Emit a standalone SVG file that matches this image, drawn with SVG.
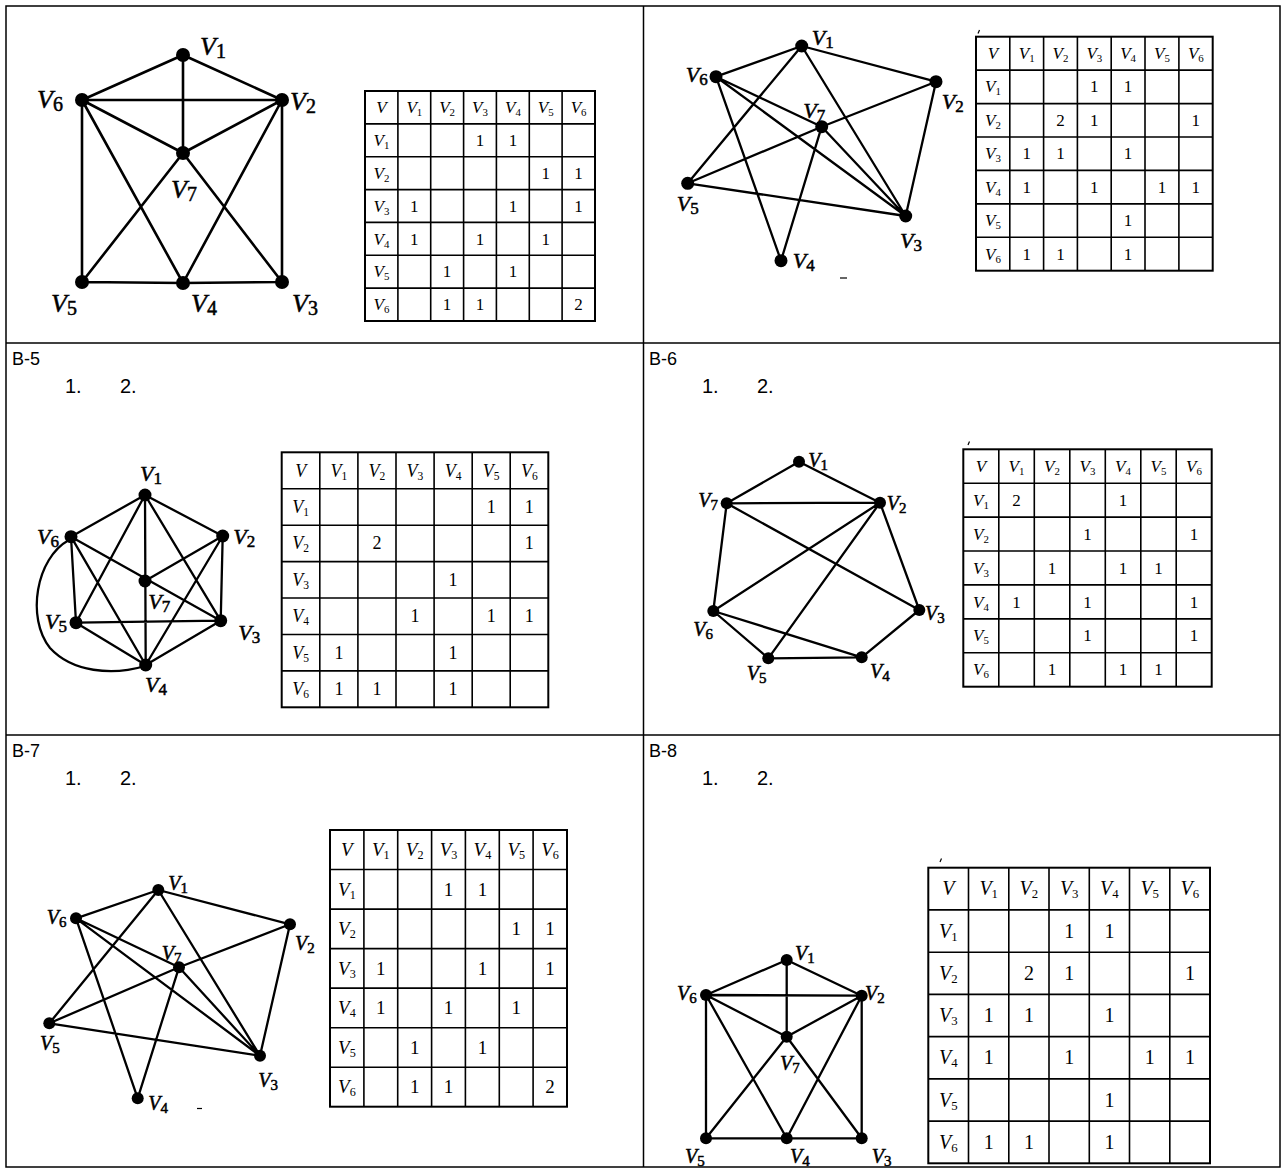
<svg xmlns="http://www.w3.org/2000/svg" width="1286" height="1173" viewBox="0 0 1286 1173">
<style>
.frame{fill:none;stroke:#000;stroke-width:1.5}
.edge{stroke:#000;stroke-width:2.6;fill:none;stroke-linecap:round}
.e2{stroke-width:2.3}
.nd{fill:#000}
.gl{font-family:"Liberation Serif",serif;font-style:italic;fill:#000;stroke:#000;stroke-width:0.5}
.gl tspan{font-style:normal}
.g1{font-size:26px}.g1 tspan{font-size:20px}
.g2{font-size:22px}.g2 tspan{font-size:17px}
.g3{font-size:22px}.g3 tspan{font-size:17px}
.g4{font-size:20px}.g4 tspan{font-size:15px}
.tb{fill:none;stroke:#000;stroke-width:2}
.tl{fill:none;stroke:#000;stroke-width:1.6}
.tt{font-family:"Liberation Serif",serif;text-anchor:middle;fill:#000}
.tv{font-style:italic}
.tv tspan{font-style:normal;font-size:64%}
.t17{font-size:17px}.t18{font-size:18px}.t19{font-size:19px}.t20{font-size:20px}
.lbl{font-family:"Liberation Sans","Open Sans",sans-serif;font-size:18px;fill:#000}
.num{font-size:20px}
.mk{stroke:#000;stroke-width:1.2}
</style>
<rect width="1286" height="1173" fill="#fff"/>

<g id="frame">
<rect class="frame" x="6" y="6" width="1274" height="1161"/>
<line class="frame" x1="643.5" y1="6" x2="643.5" y2="1167"/>
<line class="frame" x1="6" y1="343" x2="1280" y2="343"/>
<line class="frame" x1="6" y1="735" x2="1280" y2="735"/>
</g>

<g id="cell-labels">
<text class="lbl" x="12" y="365">B-5</text>
<text class="lbl num" x="65" y="393">1.</text>
<text class="lbl num" x="120" y="393">2.</text>
<text class="lbl" x="649" y="365">B-6</text>
<text class="lbl num" x="702" y="393">1.</text>
<text class="lbl num" x="757" y="393">2.</text>
<text class="lbl" x="12" y="757">B-7</text>
<text class="lbl num" x="65" y="785">1.</text>
<text class="lbl num" x="120" y="785">2.</text>
<text class="lbl" x="649" y="757">B-8</text>
<text class="lbl num" x="702" y="785">1.</text>
<text class="lbl num" x="757" y="785">2.</text>
</g>

<!-- ===== Panel 1 graph ===== -->
<g id="p1-connectors">
<path class="edge" d="M183 55L82 100M183 55L282 100M183 55L183 153M82 100L282 100M82 100L183 153M282 100L183 153M82 100L82 282M82 100L183 283M282 100L282 282M282 100L183 283M183 153L82 282M183 153L282 282M82 282L183 283L282 282"/>
</g>
<g id="p1-v1"><circle class="nd" cx="183" cy="55" r="7"/><text class="gl g1" x="200" y="55">V<tspan dy="3">1</tspan></text></g>
<g id="p1-v2"><circle class="nd" cx="282" cy="100" r="7"/><text class="gl g1" x="290" y="110">V<tspan dy="3">2</tspan></text></g>
<g id="p1-v3"><circle class="nd" cx="282" cy="282" r="7"/><text class="gl g1" x="292" y="312">V<tspan dy="3">3</tspan></text></g>
<g id="p1-v4"><circle class="nd" cx="183" cy="283" r="7"/><text class="gl g1" x="191" y="312">V<tspan dy="3">4</tspan></text></g>
<g id="p1-v5"><circle class="nd" cx="82" cy="282" r="7"/><text class="gl g1" x="51" y="312">V<tspan dy="3">5</tspan></text></g>
<g id="p1-v6"><circle class="nd" cx="82" cy="100" r="7"/><text class="gl g1" x="37" y="108">V<tspan dy="3">6</tspan></text></g>
<g id="p1-v7"><circle class="nd" cx="183" cy="153" r="7"/><text class="gl g1" x="171" y="198">V<tspan dy="3">7</tspan></text></g>

<!-- Panel 1 table -->
<g id="p1-table">
<rect class="tb" x="365" y="91" width="230" height="230"/>
<path class="tl" d="M397.9 91V321M430.7 91V321M463.6 91V321M496.4 91V321M529.3 91V321M562.1 91V321M365 123.9H595M365 156.7H595M365 189.6H595M365 222.4H595M365 255.3H595M365 288.1H595"/>
<g class="tt t17">
<text class="tv" x="381.4" y="113">V</text>
<text class="tv" x="414.3" y="113">V<tspan dy="3">1</tspan></text>
<text class="tv" x="447.1" y="113">V<tspan dy="3">2</tspan></text>
<text class="tv" x="480" y="113">V<tspan dy="3">3</tspan></text>
<text class="tv" x="512.9" y="113">V<tspan dy="3">4</tspan></text>
<text class="tv" x="545.7" y="113">V<tspan dy="3">5</tspan></text>
<text class="tv" x="578.6" y="113">V<tspan dy="3">6</tspan></text>
<text class="tv" x="381.4" y="146">V<tspan dy="3">1</tspan></text>
<text class="tv" x="381.4" y="178.7">V<tspan dy="3">2</tspan></text>
<text class="tv" x="381.4" y="211.6">V<tspan dy="3">3</tspan></text>
<text class="tv" x="381.4" y="244.5">V<tspan dy="3">4</tspan></text>
<text class="tv" x="381.4" y="277.3">V<tspan dy="3">5</tspan></text>
<text class="tv" x="381.4" y="310.2">V<tspan dy="3">6</tspan></text>
<text x="480" y="146">1</text><text x="512.9" y="146">1</text>
<text x="545.7" y="178.7">1</text><text x="578.6" y="178.7">1</text>
<text x="414.3" y="211.6">1</text><text x="512.9" y="211.6">1</text><text x="578.6" y="211.6">1</text>
<text x="414.3" y="244.5">1</text><text x="480" y="244.5">1</text><text x="545.7" y="244.5">1</text>
<text x="447.1" y="277.3">1</text><text x="512.9" y="277.3">1</text>
<text x="447.1" y="310.2">1</text><text x="480" y="310.2">1</text><text x="578.6" y="310.2">2</text>
</g>
</g>

<!-- ===== Panel 2 graph ===== -->
<g id="p2-connectors">
<path class="edge e2" d="M801.7 46L716 76.7M801.7 46L936 81.7M801.7 46L687.7 183.3M801.7 46L905.7 216M716 76.7L781 260.7M716 76.7L821.7 126.7M716 76.7L905.7 216M821.7 126.7L905.7 216M821.7 126.7L687.7 183.3M821.7 126.7L936 81.7M821.7 126.7L781 260.7M687.7 183.3L905.7 216M936 81.7L905.7 216"/>
<path class="mk" d="M840 278H847"/>
</g>
<g id="p2-v1"><circle class="nd" cx="801.7" cy="46" r="6.5"/><text class="gl g2" x="811.7" y="45">V<tspan dy="3">1</tspan></text></g>
<g id="p2-v2"><circle class="nd" cx="936" cy="81.7" r="6.5"/><text class="gl g2" x="941.7" y="109">V<tspan dy="3">2</tspan></text></g>
<g id="p2-v3"><circle class="nd" cx="905.7" cy="216" r="6.5"/><text class="gl g2" x="900" y="248">V<tspan dy="3">3</tspan></text></g>
<g id="p2-v4"><circle class="nd" cx="781" cy="260.7" r="6.5"/><text class="gl g2" x="792.7" y="268">V<tspan dy="3">4</tspan></text></g>
<g id="p2-v5"><circle class="nd" cx="687.7" cy="183.3" r="6.5"/><text class="gl g2" x="676.7" y="211">V<tspan dy="3">5</tspan></text></g>
<g id="p2-v6"><circle class="nd" cx="716" cy="76.7" r="6.5"/><text class="gl g2" x="685.7" y="82">V<tspan dy="3">6</tspan></text></g>
<g id="p2-v7"><circle class="nd" cx="821.7" cy="126.7" r="6.5"/><text class="gl g2" x="803.3" y="118">V<tspan dy="3">7</tspan></text></g>

<!-- Panel 2 table -->
<g id="p2-table">
<path class="mk" d="M978 33.5L979.5 30"/>
<rect class="tb" x="976" y="36.7" width="236.7" height="234"/>
<path class="tl" d="M1009.8 36.7V270.7M1043.6 36.7V270.7M1077.4 36.7V270.7M1111.2 36.7V270.7M1145 36.7V270.7M1178.9 36.7V270.7M976 70.1H1212.7M976 103.6H1212.7M976 137H1212.7M976 170.4H1212.7M976 203.9H1212.7M976 237.3H1212.7"/>
<g class="tt t17">
<text class="tv" x="992.9" y="59">V</text>
<text class="tv" x="1026.7" y="59">V<tspan dy="3">1</tspan></text>
<text class="tv" x="1060.5" y="59">V<tspan dy="3">2</tspan></text>
<text class="tv" x="1094.3" y="59">V<tspan dy="3">3</tspan></text>
<text class="tv" x="1128.1" y="59">V<tspan dy="3">4</tspan></text>
<text class="tv" x="1162" y="59">V<tspan dy="3">5</tspan></text>
<text class="tv" x="1195.8" y="59">V<tspan dy="3">6</tspan></text>
<text class="tv" x="992.9" y="92.4">V<tspan dy="3">1</tspan></text>
<text class="tv" x="992.9" y="125.9">V<tspan dy="3">2</tspan></text>
<text class="tv" x="992.9" y="159.3">V<tspan dy="3">3</tspan></text>
<text class="tv" x="992.9" y="192.7">V<tspan dy="3">4</tspan></text>
<text class="tv" x="992.9" y="226.2">V<tspan dy="3">5</tspan></text>
<text class="tv" x="992.9" y="259.6">V<tspan dy="3">6</tspan></text>
<text x="1094.3" y="92.4">1</text><text x="1128.1" y="92.4">1</text>
<text x="1060.5" y="125.9">2</text><text x="1094.3" y="125.9">1</text><text x="1195.8" y="125.9">1</text>
<text x="1026.7" y="159.3">1</text><text x="1060.5" y="159.3">1</text><text x="1128.1" y="159.3">1</text>
<text x="1026.7" y="192.7">1</text><text x="1094.3" y="192.7">1</text><text x="1162" y="192.7">1</text><text x="1195.8" y="192.7">1</text>
<text x="1128.1" y="226.2">1</text>
<text x="1026.7" y="259.6">1</text><text x="1060.5" y="259.6">1</text><text x="1128.1" y="259.6">1</text>
</g>
</g>

<!-- ===== B-5 graph ===== -->
<g id="b5-connectors">
<path class="edge e2" d="M145 495L71 536.7M145 495L222.7 536M145 495L145.7 665M145 495L76 622.7M145 495L220.7 620.7M71 536.7L220.7 620.7M222.7 536L145 581M71 536.7L76 622.7M71 536.7L145.7 665M222.7 536L220.7 620.7M222.7 536L145.7 665M76 622.7L220.7 620.7M76 622.7L145.7 665M220.7 620.7L145.7 665"/>
<path class="edge e2" d="M69 540C36 558 26 618 50 648C72 672 112 676 145 666"/>
</g>
<g id="b5-v1"><circle class="nd" cx="145" cy="495" r="6.5"/><text class="gl g3" x="140" y="481">V<tspan dy="3">1</tspan></text></g>
<g id="b5-v2"><circle class="nd" cx="222.7" cy="536" r="6.5"/><text class="gl g3" x="233.3" y="544">V<tspan dy="3">2</tspan></text></g>
<g id="b5-v3"><circle class="nd" cx="220.7" cy="620.7" r="6.5"/><text class="gl g3" x="238.3" y="640">V<tspan dy="3">3</tspan></text></g>
<g id="b5-v4"><circle class="nd" cx="145.7" cy="665" r="6.5"/><text class="gl g3" x="145" y="692">V<tspan dy="3">4</tspan></text></g>
<g id="b5-v5"><circle class="nd" cx="76" cy="622.7" r="6.5"/><text class="gl g3" x="45" y="629">V<tspan dy="3">5</tspan></text></g>
<g id="b5-v6"><circle class="nd" cx="71" cy="536.7" r="6.5"/><text class="gl g3" x="37" y="544">V<tspan dy="3">6</tspan></text></g>
<g id="b5-v7"><circle class="nd" cx="145" cy="581" r="6.5"/><text class="gl g3" x="148.3" y="609">V<tspan dy="3">7</tspan></text></g>

<!-- B-5 table -->
<g id="b5-table">
<rect class="tb" x="281.7" y="452.3" width="266.6" height="255"/>
<path class="tl" d="M319.8 452.3V707.3M357.9 452.3V707.3M396 452.3V707.3M434.1 452.3V707.3M472.2 452.3V707.3M510.2 452.3V707.3M281.7 488.7H548.3M281.7 525.2H548.3M281.7 561.6H548.3M281.7 598H548.3M281.7 634.5H548.3M281.7 670.9H548.3"/>
<g class="tt t18">
<text class="tv" x="300.7" y="476.5">V</text>
<text class="tv" x="338.9" y="476.5">V<tspan dy="3">1</tspan></text>
<text class="tv" x="377" y="476.5">V<tspan dy="3">2</tspan></text>
<text class="tv" x="415" y="476.5">V<tspan dy="3">3</tspan></text>
<text class="tv" x="453.1" y="476.5">V<tspan dy="3">4</tspan></text>
<text class="tv" x="491.2" y="476.5">V<tspan dy="3">5</tspan></text>
<text class="tv" x="529.3" y="476.5">V<tspan dy="3">6</tspan></text>
<text class="tv" x="300.7" y="513">V<tspan dy="3">1</tspan></text>
<text class="tv" x="300.7" y="549.4">V<tspan dy="3">2</tspan></text>
<text class="tv" x="300.7" y="585.8">V<tspan dy="3">3</tspan></text>
<text class="tv" x="300.7" y="622.3">V<tspan dy="3">4</tspan></text>
<text class="tv" x="300.7" y="658.7">V<tspan dy="3">5</tspan></text>
<text class="tv" x="300.7" y="695.1">V<tspan dy="3">6</tspan></text>
<text x="491.2" y="513">1</text><text x="529.3" y="513">1</text>
<text x="377" y="549.4">2</text><text x="529.3" y="549.4">1</text>
<text x="453.1" y="585.8">1</text>
<text x="415" y="622.3">1</text><text x="491.2" y="622.3">1</text><text x="529.3" y="622.3">1</text>
<text x="338.9" y="658.7">1</text><text x="453.1" y="658.7">1</text>
<text x="338.9" y="695.1">1</text><text x="377" y="695.1">1</text><text x="453.1" y="695.1">1</text>
</g>
</g>

<!-- ===== B-6 graph ===== -->
<g id="b6-connectors">
<path class="edge e2" d="M799 461.7L726.7 503.3M799 461.7L880 502.7M726.7 503.3L880 502.7M726.7 503.3L713.3 611M726.7 503.3L919.3 610M880 502.7L713.3 611M880 502.7L768.3 658.3M880 502.7L919.3 610M713.3 611L768.3 658.3M713.3 611L861.7 657.3M768.3 658.3L861.7 657.3M861.7 657.3L919.3 610"/>
</g>
<g id="b6-v1"><circle class="nd" cx="799" cy="461.7" r="6"/><text class="gl g4" x="808.3" y="467">V<tspan dy="3">1</tspan></text></g>
<g id="b6-v2"><circle class="nd" cx="880" cy="502.7" r="6"/><text class="gl g4" x="886.7" y="510">V<tspan dy="3">2</tspan></text></g>
<g id="b6-v3"><circle class="nd" cx="919.3" cy="610" r="6"/><text class="gl g4" x="925" y="620">V<tspan dy="3">3</tspan></text></g>
<g id="b6-v4"><circle class="nd" cx="861.7" cy="657.3" r="6"/><text class="gl g4" x="870" y="678">V<tspan dy="3">4</tspan></text></g>
<g id="b6-v5"><circle class="nd" cx="768.3" cy="658.3" r="6"/><text class="gl g4" x="746.7" y="680">V<tspan dy="3">5</tspan></text></g>
<g id="b6-v6"><circle class="nd" cx="713.3" cy="611" r="6"/><text class="gl g4" x="693.3" y="636">V<tspan dy="3">6</tspan></text></g>
<g id="b6-v7"><circle class="nd" cx="726.7" cy="503.3" r="6"/><text class="gl g4" x="698.3" y="507">V<tspan dy="3">7</tspan></text></g>

<!-- B-6 table -->
<g id="b6-table">
<path class="mk" d="M968 445L969.5 441.5"/>
<rect class="tb" x="963.3" y="449.3" width="248.4" height="237.4"/>
<path class="tl" d="M998.8 449.3V686.7M1034.3 449.3V686.7M1069.8 449.3V686.7M1105.3 449.3V686.7M1140.8 449.3V686.7M1176.2 449.3V686.7M963.3 483.2H1211.7M963.3 517.1H1211.7M963.3 551H1211.7M963.3 584.9H1211.7M963.3 618.9H1211.7M963.3 652.8H1211.7"/>
<g class="tt t17">
<text class="tv" x="981" y="471.9">V</text>
<text class="tv" x="1016.5" y="471.9">V<tspan dy="3">1</tspan></text>
<text class="tv" x="1052" y="471.9">V<tspan dy="3">2</tspan></text>
<text class="tv" x="1087.5" y="471.9">V<tspan dy="3">3</tspan></text>
<text class="tv" x="1123" y="471.9">V<tspan dy="3">4</tspan></text>
<text class="tv" x="1158.5" y="471.9">V<tspan dy="3">5</tspan></text>
<text class="tv" x="1194" y="471.9">V<tspan dy="3">6</tspan></text>
<text class="tv" x="981" y="505.8">V<tspan dy="3">1</tspan></text>
<text class="tv" x="981" y="539.7">V<tspan dy="3">2</tspan></text>
<text class="tv" x="981" y="573.6">V<tspan dy="3">3</tspan></text>
<text class="tv" x="981" y="607.5">V<tspan dy="3">4</tspan></text>
<text class="tv" x="981" y="641.4">V<tspan dy="3">5</tspan></text>
<text class="tv" x="981" y="675.3">V<tspan dy="3">6</tspan></text>
<text x="1016.5" y="505.8">2</text><text x="1123" y="505.8">1</text>
<text x="1087.5" y="539.7">1</text><text x="1194" y="539.7">1</text>
<text x="1052" y="573.6">1</text><text x="1123" y="573.6">1</text><text x="1158.5" y="573.6">1</text>
<text x="1016.5" y="607.5">1</text><text x="1087.5" y="607.5">1</text><text x="1194" y="607.5">1</text>
<text x="1087.5" y="641.4">1</text><text x="1194" y="641.4">1</text>
<text x="1052" y="675.3">1</text><text x="1123" y="675.3">1</text><text x="1158.5" y="675.3">1</text>
</g>
</g>

<!-- ===== B-7 graph ===== -->
<g id="b7-connectors">
<path class="edge e2" d="M158.3 890L76 918.3M158.3 890L290 924.3M158.3 890L49.3 1023.3M158.3 890L260 1055.7M76 918.3L137.7 1098.3M76 918.3L179 967.3M76 918.3L260 1055.7M179 967.3L260 1055.7M179 967.3L49.3 1023.3M179 967.3L290 924.3M179 967.3L137.7 1098.3M49.3 1023.3L260 1055.7M290 924.3L260 1055.7"/>
<path class="mk" d="M197 1108.5H202"/>
</g>
<g id="b7-v1"><circle class="nd" cx="158.3" cy="890" r="6"/><text class="gl g4" x="168.3" y="890">V<tspan dy="3">1</tspan></text></g>
<g id="b7-v2"><circle class="nd" cx="290" cy="924.3" r="6"/><text class="gl g4" x="295" y="950">V<tspan dy="3">2</tspan></text></g>
<g id="b7-v3"><circle class="nd" cx="260" cy="1055.7" r="6"/><text class="gl g4" x="258.3" y="1087">V<tspan dy="3">3</tspan></text></g>
<g id="b7-v4"><circle class="nd" cx="137.7" cy="1098.3" r="6"/><text class="gl g4" x="148.3" y="1110">V<tspan dy="3">4</tspan></text></g>
<g id="b7-v5"><circle class="nd" cx="49.3" cy="1023.3" r="6"/><text class="gl g4" x="40" y="1050">V<tspan dy="3">5</tspan></text></g>
<g id="b7-v6"><circle class="nd" cx="76" cy="918.3" r="6"/><text class="gl g4" x="46.7" y="924">V<tspan dy="3">6</tspan></text></g>
<g id="b7-v7"><circle class="nd" cx="179" cy="967.3" r="6"/><text class="gl g4" x="161.7" y="960">V<tspan dy="3">7</tspan></text></g>

<!-- B-7 table -->
<g id="b7-table">
<rect class="tb" x="330" y="830" width="237" height="276.7"/>
<path class="tl" d="M363.9 830V1106.7M397.7 830V1106.7M431.6 830V1106.7M465.4 830V1106.7M499.3 830V1106.7M533.1 830V1106.7M330 869.5H567M330 909.1H567M330 948.6H567M330 988.1H567M330 1027.7H567M330 1067.2H567"/>
<g class="tt t19">
<text class="tv" x="346.9" y="856.1">V</text>
<text class="tv" x="380.8" y="856.1">V<tspan dy="3">1</tspan></text>
<text class="tv" x="414.7" y="856.1">V<tspan dy="3">2</tspan></text>
<text class="tv" x="448.6" y="856.1">V<tspan dy="3">3</tspan></text>
<text class="tv" x="482.4" y="856.1">V<tspan dy="3">4</tspan></text>
<text class="tv" x="516.3" y="856.1">V<tspan dy="3">5</tspan></text>
<text class="tv" x="550.1" y="856.1">V<tspan dy="3">6</tspan></text>
<text class="tv" x="346.9" y="895.6">V<tspan dy="3">1</tspan></text>
<text class="tv" x="346.9" y="935.1">V<tspan dy="3">2</tspan></text>
<text class="tv" x="346.9" y="974.7">V<tspan dy="3">3</tspan></text>
<text class="tv" x="346.9" y="1014.2">V<tspan dy="3">4</tspan></text>
<text class="tv" x="346.9" y="1053.7">V<tspan dy="3">5</tspan></text>
<text class="tv" x="346.9" y="1093.3">V<tspan dy="3">6</tspan></text>
<text x="448.6" y="895.6">1</text><text x="482.4" y="895.6">1</text>
<text x="516.3" y="935.1">1</text><text x="550.1" y="935.1">1</text>
<text x="380.8" y="974.7">1</text><text x="482.4" y="974.7">1</text><text x="550.1" y="974.7">1</text>
<text x="380.8" y="1014.2">1</text><text x="448.6" y="1014.2">1</text><text x="516.3" y="1014.2">1</text>
<text x="414.7" y="1053.7">1</text><text x="482.4" y="1053.7">1</text>
<text x="414.7" y="1093.3">1</text><text x="448.6" y="1093.3">1</text><text x="550.1" y="1093.3">2</text>
</g>
</g>

<!-- ===== B-8 graph ===== -->
<g id="b8-connectors">
<path class="edge e2" d="M786.7 960L706 995M786.7 960L861.7 995.7M786.7 960L786.7 1036.7M706 995L861.7 995.7M706 995L786.7 1036.7M861.7 995.7L786.7 1036.7M706 995L706 1138.3M706 995L786.7 1138.3M861.7 995.7L861.7 1138.3M861.7 995.7L786.7 1138.3M786.7 1036.7L706 1138.3M786.7 1036.7L861.7 1138.3M706 1138.3L861.7 1138.3"/>
</g>
<g id="b8-v1"><circle class="nd" cx="786.7" cy="960" r="6"/><text class="gl g4" x="795" y="960">V<tspan dy="3">1</tspan></text></g>
<g id="b8-v2"><circle class="nd" cx="861.7" cy="995.7" r="6"/><text class="gl g4" x="865" y="1000">V<tspan dy="3">2</tspan></text></g>
<g id="b8-v3"><circle class="nd" cx="861.7" cy="1138.3" r="6"/><text class="gl g4" x="871.7" y="1163">V<tspan dy="3">3</tspan></text></g>
<g id="b8-v4"><circle class="nd" cx="786.7" cy="1138.3" r="6"/><text class="gl g4" x="790" y="1163">V<tspan dy="3">4</tspan></text></g>
<g id="b8-v5"><circle class="nd" cx="706" cy="1138.3" r="6"/><text class="gl g4" x="685" y="1163">V<tspan dy="3">5</tspan></text></g>
<g id="b8-v6"><circle class="nd" cx="706" cy="995" r="6"/><text class="gl g4" x="677" y="1000">V<tspan dy="3">6</tspan></text></g>
<g id="b8-v7"><circle class="nd" cx="786.7" cy="1036.7" r="6"/><text class="gl g4" x="780" y="1070">V<tspan dy="3">7</tspan></text></g>

<!-- B-8 table -->
<g id="b8-table">
<path class="mk" d="M940 862L941.5 858.5"/>
<rect class="tb" x="928.3" y="867.7" width="281.7" height="295.6"/>
<path class="tl" d="M968.5 867.7V1163.3M1008.8 867.7V1163.3M1049 867.7V1163.3M1089.3 867.7V1163.3M1129.5 867.7V1163.3M1169.8 867.7V1163.3M928.3 909.9H1210M928.3 952.2H1210M928.3 994.4H1210M928.3 1036.6H1210M928.3 1078.9H1210M928.3 1121.1H1210"/>
<g class="tt t20">
<text class="tv" x="948.4" y="895.4">V</text>
<text class="tv" x="988.7" y="895.4">V<tspan dy="3">1</tspan></text>
<text class="tv" x="1028.9" y="895.4">V<tspan dy="3">2</tspan></text>
<text class="tv" x="1069.2" y="895.4">V<tspan dy="3">3</tspan></text>
<text class="tv" x="1109.4" y="895.4">V<tspan dy="3">4</tspan></text>
<text class="tv" x="1149.7" y="895.4">V<tspan dy="3">5</tspan></text>
<text class="tv" x="1189.9" y="895.4">V<tspan dy="3">6</tspan></text>
<text class="tv" x="948.4" y="937.6">V<tspan dy="3">1</tspan></text>
<text class="tv" x="948.4" y="979.9">V<tspan dy="3">2</tspan></text>
<text class="tv" x="948.4" y="1022.1">V<tspan dy="3">3</tspan></text>
<text class="tv" x="948.4" y="1064.3">V<tspan dy="3">4</tspan></text>
<text class="tv" x="948.4" y="1106.6">V<tspan dy="3">5</tspan></text>
<text class="tv" x="948.4" y="1148.8">V<tspan dy="3">6</tspan></text>
<text x="1069.2" y="937.6">1</text><text x="1109.4" y="937.6">1</text>
<text x="1028.9" y="979.9">2</text><text x="1069.2" y="979.9">1</text><text x="1189.9" y="979.9">1</text>
<text x="988.7" y="1022.1">1</text><text x="1028.9" y="1022.1">1</text><text x="1109.4" y="1022.1">1</text>
<text x="988.7" y="1064.3">1</text><text x="1069.2" y="1064.3">1</text><text x="1149.7" y="1064.3">1</text><text x="1189.9" y="1064.3">1</text>
<text x="1109.4" y="1106.6">1</text>
<text x="988.7" y="1148.8">1</text><text x="1028.9" y="1148.8">1</text><text x="1109.4" y="1148.8">1</text>
</g>
</g>
</svg>
